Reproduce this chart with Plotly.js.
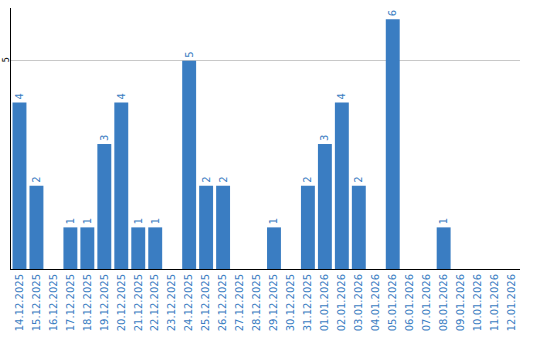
<!DOCTYPE html>
<html><head><meta charset="utf-8">
<script src="https://cdn.plot.ly/plotly-3.0.1.min.js"></script>
<style>html,body{margin:0;padding:0;background:#fff}#chart{width:540px;height:340px}</style>
</head><body><div id="chart"></div>
<script>
const dates = ["14.12.2025","15.12.2025","16.12.2025","17.12.2025","18.12.2025","19.12.2025","20.12.2025","21.12.2025","22.12.2025","23.12.2025","24.12.2025","25.12.2025","26.12.2025","27.12.2025","28.12.2025","29.12.2025","30.12.2025","31.12.2025","01.01.2026","02.01.2026","03.01.2026","04.01.2026","05.01.2026","06.01.2026","07.01.2026","08.01.2026","09.01.2026","10.01.2026","11.01.2026","12.01.2026"];
const counts = [4,2,0,1,1,3,4,1,1,0,5,2,2,0,0,1,0,2,3,4,2,0,6,0,0,1,0,0,0,0];
const labels = counts.map(v => v > 0 ? String(v) : "");
const blue = "#3a7dc2";
Plotly.newPlot("chart", [{
  type: "bar", x: dates, y: counts, text: labels,
  textposition: "outside", textangle: -90, cliponaxis: false,
  textfont: {family: "DejaVu Sans", size: 10, color: blue},
  marker: {color: blue}, hoverinfo: "none"
}], {
  width: 540, height: 340,
  margin: {l: 11, r: 20, t: 8, b: 71, pad: 0},
  bargap: 0.18, showlegend: false,
  paper_bgcolor: "#fff", plot_bgcolor: "#fff",
  xaxis: {type: "category", tickangle: -90, showgrid: false, zeroline: false,
    showline: true, linecolor: "#000", linewidth: 1, ticks: "",
    tickfont: {family: "DejaVu Sans", size: 10, color: blue}},
  yaxis: {range: [0, 6.27], tickvals: [5], ticktext: ["5"], tickangle: -90,
    ticklabelstandoff: -2,
    showgrid: true, gridcolor: "#c8c8c8", gridwidth: 1, zeroline: false,
    showline: true, linecolor: "#000", linewidth: 1, ticks: "",
    tickfont: {family: "DejaVu Sans", size: 8, color: "#000"}}
}, {displayModeBar: false, staticPlot: true});
</script></body></html>
